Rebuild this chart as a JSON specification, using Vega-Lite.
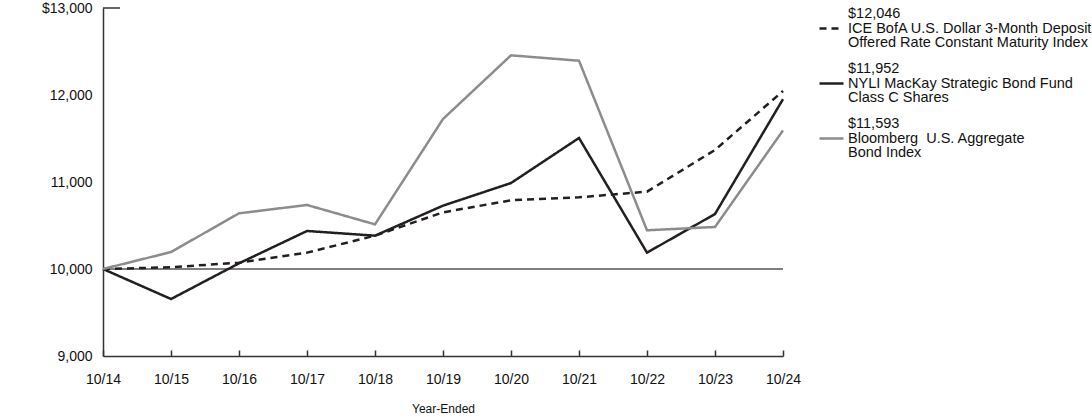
{
  "$schema": "https://vega.github.io/schema/vega-lite/v6.json",
  "width": 680,
  "height": 348,
  "autosize": {"type": "none"},
  "padding": {"left": 103, "top": 8, "right": 309, "bottom": 61},
  "config": {
    "font": "Liberation Sans",
    "view": {"stroke": null},
    "axis": {"domainColor": "#333333", "domainWidth": 1.5, "labelColor": "#111111", "titleColor": "#111111", "labelFont": "Liberation Sans", "titleFont": "Liberation Sans"},
    "legend": {"labelFont": "Liberation Sans"}
  },
  "datasets": {
    "series": [
      {"year": 2014, "series": "ICE", "value": 10000},
      {"year": 2015, "series": "ICE", "value": 10020},
      {"year": 2016, "series": "ICE", "value": 10073},
      {"year": 2017, "series": "ICE", "value": 10188},
      {"year": 2018, "series": "ICE", "value": 10383},
      {"year": 2019, "series": "ICE", "value": 10651},
      {"year": 2020, "series": "ICE", "value": 10790},
      {"year": 2021, "series": "ICE", "value": 10824},
      {"year": 2022, "series": "ICE", "value": 10889},
      {"year": 2023, "series": "ICE", "value": 11368},
      {"year": 2024, "series": "ICE", "value": 12046},
      {"year": 2014, "series": "NYLI", "value": 10000},
      {"year": 2015, "series": "NYLI", "value": 9655},
      {"year": 2016, "series": "NYLI", "value": 10065},
      {"year": 2017, "series": "NYLI", "value": 10437},
      {"year": 2018, "series": "NYLI", "value": 10383},
      {"year": 2019, "series": "NYLI", "value": 10728},
      {"year": 2020, "series": "NYLI", "value": 10988},
      {"year": 2021, "series": "NYLI", "value": 11506},
      {"year": 2022, "series": "NYLI", "value": 10188},
      {"year": 2023, "series": "NYLI", "value": 10632},
      {"year": 2024, "series": "NYLI", "value": 11952},
      {"year": 2014, "series": "Bloomberg", "value": 10000},
      {"year": 2015, "series": "Bloomberg", "value": 10195},
      {"year": 2016, "series": "Bloomberg", "value": 10640},
      {"year": 2017, "series": "Bloomberg", "value": 10736},
      {"year": 2018, "series": "Bloomberg", "value": 10513},
      {"year": 2019, "series": "Bloomberg", "value": 11724},
      {"year": 2020, "series": "Bloomberg", "value": 12456},
      {"year": 2021, "series": "Bloomberg", "value": 12394},
      {"year": 2022, "series": "Bloomberg", "value": 10445},
      {"year": 2023, "series": "Bloomberg", "value": 10483},
      {"year": 2024, "series": "Bloomberg", "value": 11593}
    ]
  },
  "layer": [
    {
      "data": {"values": [{"value": 10000}]},
      "mark": {"type": "rule", "color": "#555555", "strokeWidth": 1.5},
      "encoding": {"y": {"field": "value", "type": "quantitative", "scale": {"domain": [9000, 13000]}}}
    },
    {
      "data": {"values": [{"x": 2014, "x2": 2014.25, "value": 13000}]},
      "mark": {"type": "rule", "color": "#333333", "strokeWidth": 1.5},
      "encoding": {
        "x": {"field": "x", "type": "quantitative"},
        "x2": {"field": "x2"},
        "y": {"field": "value", "type": "quantitative"}
      }
    },
    {
      "data": {"name": "series"},
      "mark": {"type": "line", "strokeWidth": 2.5},
      "encoding": {
        "x": {
          "field": "year", "type": "quantitative",
          "scale": {"domain": [2014, 2024], "nice": false, "zero": false},
          "axis": {
            "title": "Year-Ended", "titleFontSize": 12, "titleFontWeight": "normal", "titlePadding": 17,
            "values": [2014, 2015, 2016, 2017, 2018, 2019, 2020, 2021, 2022, 2023, 2024],
            "labelExpr": "'10/' + (datum.value % 100)",
            "labelFontSize": 14, "labelPadding": 22,
            "tickSize": -6, "tickColor": "#333333", "tickWidth": 1.5,
            "grid": false, "labelFlush": false
          }
        },
        "y": {
          "field": "value", "type": "quantitative",
          "scale": {"domain": [9000, 13000], "nice": false, "zero": false},
          "axis": {
            "title": null,
            "values": [9000, 10000, 11000, 12000, 13000],
            "labelExpr": "datum.value == 13000 ? '$13,000' : format(datum.value, ',')",
            "labelFontSize": 14, "labelPadding": 11,
            "ticks": false, "tickSize": 0, "grid": false
          }
        },
        "color": {
          "field": "series", "type": "nominal",
          "scale": {"domain": ["ICE", "NYLI", "Bloomberg"], "range": ["#231f20", "#231f20", "#8c8c8c"]},
          "legend": {
            "title": null,
            "orient": "none", "legendX": 715, "legendY": 7,
            "labelExpr": "datum.label == 'ICE' ? ['$12,046', 'ICE BofA U.S. Dollar 3-Month Deposit', 'Offered Rate Constant Maturity Index'] : datum.label == 'NYLI' ? ['$11,952', 'NYLI MacKay Strategic Bond Fund', 'Class C Shares'] : ['$11,593', 'Bloomberg\u00a0 U.S. Aggregate', 'Bond Index']",
            "labelFontSize": 14.5, "labelLimit": 0, "labelColor": "#111111",
            "symbolType": "stroke", "symbolSize": 576, "symbolStrokeWidth": 2.5,
            "rowPadding": 11, "labelOffset": 3,
            "encode": {"labels": {"update": {"lineHeight": {"value": 14.5}, "dy": {"value": -14.5}}}}
          }
        },
        "strokeDash": {
          "field": "series", "type": "nominal",
          "scale": {"domain": ["ICE", "NYLI", "Bloomberg"], "range": [[7, 5], [1, 0], [1, 0]]},
          "legend": null
        }
      }
    }
  ]
}
